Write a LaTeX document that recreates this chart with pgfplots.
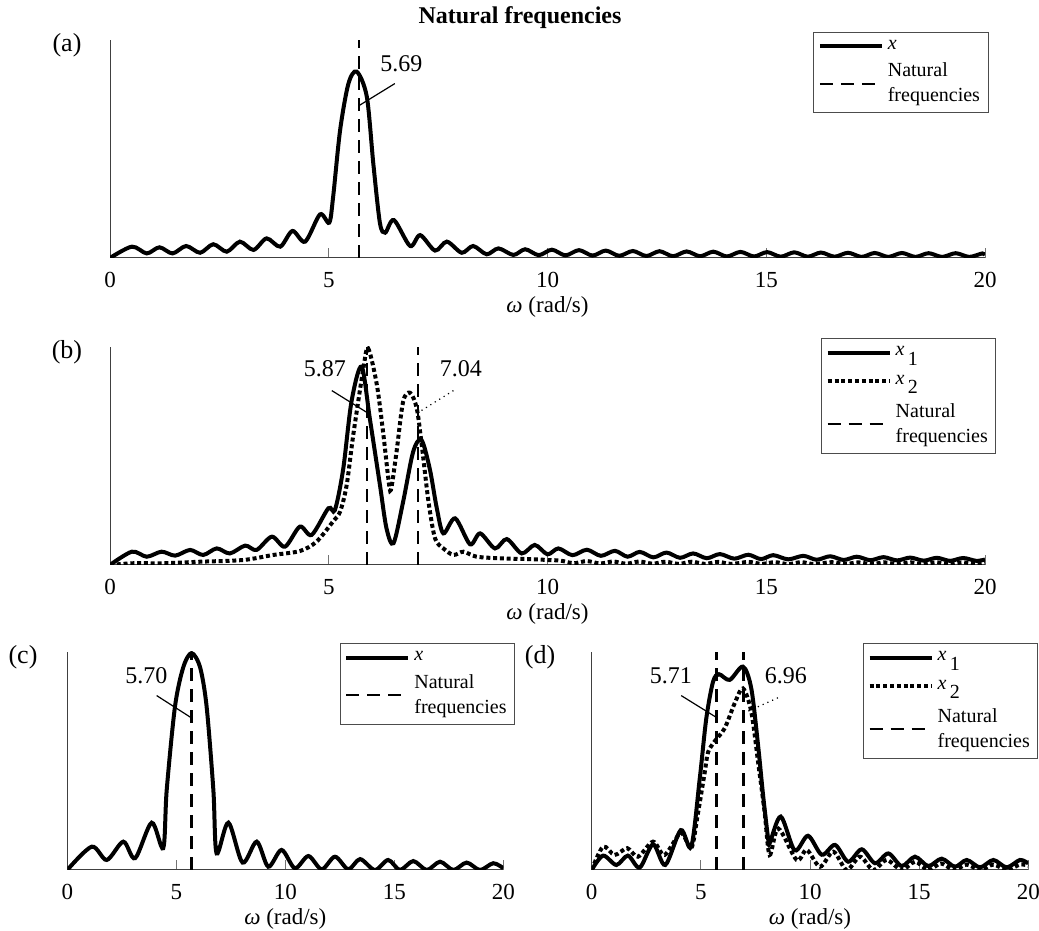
\documentclass[border=0pt]{standalone}
\usepackage{fontspec}
\setmainfont{Liberation Serif}
\usepackage{pgfplots}
\pgfplotsset{compat=1.18}
\newcommand{\sub}[1]{\,\raisebox{-1ex}{#1}}
\pgfplotsset{
  panel/.style={
    scale only axis, xmin=0, xmax=20, ymin=0, ymax=1,
    axis x line=bottom, axis y line=left,
    axis line style={-, black!75, line width=0.5pt},
    xtick={0,5,10,15,20}, ytick=\empty,
    tick align=inside, major tick length=5pt,
    tick style={black!55, line width=0.5pt},
    /pgf/number format/assume math mode=true,
    xticklabel style={font=\fontsize{11.5}{13}\selectfont, anchor=center, yshift=-11pt},
    xlabel={\textit{ω} (rad/s)},
    xlabel style={font=\fontsize{11.5}{13}\selectfont, at={(axis description cs:0.5,0)}, anchor=center, yshift=-24.5pt},
    legend cell align=left,
    legend style={draw=black!70, line width=0.5pt, font=\fontsize{10}{12.5}\selectfont,
      cells={align=left}, inner sep=2pt, row sep=1.2pt, anchor=north east},
    legend image code/.code={\draw[##1] (0pt,0pt) -- (31pt,0pt);},
  },
  curve/.style={black, line width=2pt, smooth},
  dotc/.style={black, line width=2pt, smooth, dash pattern=on 2pt off 1.4pt},
  nat/.style={black, line width=1.2pt, dash pattern=on 6.5pt off 4pt},
}
\begin{document}
\begin{tikzpicture}
\path[use as bounding box] (0pt,0pt) rectangle (519.5pt,465.5pt);
\node[font=\bfseries\fontsize{12}{14}\selectfont] at (260pt,456.5pt) {Natural frequencies};
\node[font=\fontsize{13}{15}\selectfont] at (33.5pt,443pt) {(a)};
\node[font=\fontsize{13}{15}\selectfont] at (33.5pt,289.5pt) {(b)};
\node[font=\fontsize{13}{15}\selectfont] at (11.5pt,137pt) {(c)};
\node[font=\fontsize{13}{15}\selectfont] at (270pt,137pt) {(d)};

% (a)
\begin{axis}[panel, at={(55pt,336.5pt)}, width=437.5pt, height=109pt,
  legend style={at={(1.004,1.038)}}]
\addplot[curve] coordinates {
(0,0) (0.50,0.052) (0.84,0.021) (1.13,0.049) (1.43,0.021) (1.74,0.055) (2.06,0.024)
(2.36,0.063) (2.67,0.029) (2.97,0.075) (3.28,0.037) (3.58,0.090) (3.89,0.052)
(4.17,0.124) (4.46,0.075) (4.80,0.200) (5.01,0.162) (5.10,0.28) (5.26,0.587)
(5.45,0.80) (5.64,0.855) (5.87,0.74) (6.02,0.43) (6.17,0.16) (6.29,0.116)
(6.49,0.174) (6.86,0.055) (7.09,0.105) (7.43,0.034) (7.70,0.075) (8.04,0.024)
(8.30,0.055) (8.61,0.017) (8.88,0.044) (9.22,0.014) (9.49,0.040) (9.80,0.013)
(10.10,0.038) (10.41,0.012) (10.72,0.036) (11.03,0.011) (11.33,0.034) (11.64,0.010)
(11.95,0.032) (12.26,0.009) (12.56,0.031) (12.87,0.008) (13.18,0.030) (13.49,0.008)
(13.79,0.029) (14.10,0.007) (14.41,0.028) (14.72,0.007) (15.02,0.027) (15.33,0.006)
(15.64,0.026) (15.95,0.006) (16.25,0.025) (16.56,0.006) (16.87,0.024) (17.18,0.005)
(17.48,0.023) (17.79,0.005) (18.10,0.023) (18.41,0.005) (18.71,0.022) (19.02,0.005)
(19.33,0.022) (19.64,0.005) (19.94,0.021) (20,0.012)
};
\addlegendentry{\textit{x}}
\addplot[nat] coordinates {(5.69,0) (5.69,1)};
\addlegendentry{Natural\\frequencies}
\draw[black, line width=0.6pt] (axis cs:6.51,0.80) -- (axis cs:5.70,0.70);
\node[font=\fontsize{12}{14}\selectfont] at (axis cs:6.66,0.89) {5.69};
\end{axis}

% (b)
\begin{axis}[panel, at={(55pt,183pt)}, width=437.5pt, height=109pt,
  legend style={at={(1.013,1.04)}, row sep=4pt}]
\addplot[curve] coordinates {
(0,0) (0.50,0.061) (0.84,0.038) (1.18,0.061) (1.49,0.043) (1.83,0.069) (2.13,0.046)
(2.44,0.076) (2.74,0.053) (3.09,0.089) (3.35,0.069) (3.70,0.13) (4.00,0.084)
(4.34,0.176) (4.61,0.138) (4.99,0.26) (5.14,0.252) (5.33,0.44) (5.52,0.75)
(5.75,0.91) (5.94,0.67) (6.17,0.367) (6.32,0.168) (6.48,0.10) (6.70,0.29)
(6.93,0.52) (7.12,0.573) (7.31,0.44) (7.47,0.26) (7.62,0.145) (7.89,0.214)
(8.23,0.095) (8.46,0.145) (8.80,0.076) (9.07,0.119) (9.41,0.053) (9.71,0.092)
(10.0,0.049) (10.25,0.076) (10.57,0.045) (10.9,0.07) (11.22,0.042) (11.54,0.065)
(11.83,0.038) (12.11,0.06) (12.42,0.035) (12.72,0.057) (13.03,0.033) (13.33,0.053)
(13.64,0.031) (13.94,0.05) (14.27,0.029) (14.59,0.047) (14.88,0.027) (15.16,0.045)
(15.5,0.026) (15.85,0.042) (16.15,0.024) (16.46,0.04) (16.77,0.023) (17.07,0.038)
(17.38,0.022) (17.68,0.036) (17.99,0.021) (18.29,0.034) (18.6,0.02) (18.9,0.033)
(19.2,0.019) (19.5,0.032) (19.8,0.019) (20,0.025)
};
\addlegendentry{\textit{x}\sub{1}}
\addplot[dotc] coordinates {
(0,0) (0.53,0.008) (1.2,0.008) (2.06,0.015) (3.05,0.023) (3.73,0.046) (4.34,0.064)
(4.72,0.107) (5.10,0.20) (5.26,0.245) (5.41,0.367) (5.56,0.596) (5.79,0.90)
(5.90,0.994) (6.10,0.826) (6.25,0.596) (6.36,0.40) (6.42,0.344) (6.55,0.52)
(6.70,0.75) (6.86,0.79) (7.01,0.72) (7.12,0.56) (7.28,0.29) (7.43,0.122)
(7.62,0.076) (7.85,0.046) (8.08,0.061) (8.38,0.038) (9.0,0.03) (9.6,0.027)
(10,0.023) (10.3,0.02) (10.6,0.008) (10.9,0.018) (11.2,0.007) (11.5,0.016)
(11.8,0.006) (12.1,0.016) (12.4,0.006) (12.7,0.015) (13.0,0.005) (13.3,0.015)
(13.6,0.005) (13.9,0.014) (14.2,0.005) (14.6,0.014) (14.9,0.005) (15.2,0.013)
(15.5,0.004) (15.8,0.013) (16.1,0.004) (16.5,0.013) (16.8,0.004) (17.1,0.012)
(17.4,0.004) (17.7,0.012) (18.0,0.004) (18.3,0.012) (18.6,0.004) (18.9,0.012)
(19.2,0.004) (19.5,0.012) (19.8,0.004) (20,0.01)
};
\addlegendentry{\textit{x}\sub{2}}
\addplot[nat] coordinates {(5.87,0) (5.87,1)};
\addlegendentry{Natural\\frequencies}
\addplot[nat, forget plot] coordinates {(7.04,0) (7.04,1)};
\draw[black, line width=0.6pt] (axis cs:5.07,0.80) -- (axis cs:5.87,0.70);
\draw[black, line width=0.6pt, dotted] (axis cs:7.85,0.80) -- (axis cs:7.05,0.70);
\node[font=\fontsize{12}{14}\selectfont] at (axis cs:4.91,0.90) {5.87};
\node[font=\fontsize{12}{14}\selectfont] at (axis cs:8.02,0.90) {7.04};
\end{axis}

% (c)
\begin{axis}[panel, at={(33.65pt,30.5pt)}, width=218pt, height=109pt,
  legend style={at={(1.027,1.04)}}]
\addplot[curve] coordinates {
(0,0) (1.12,0.107) (1.81,0.046) (2.57,0.13) (3.11,0.054) (3.87,0.217) (4.40,0.10)
(4.56,0.367) (4.94,0.75) (5.32,0.93) (5.70,0.995) (6.09,0.93) (6.39,0.75)
(6.70,0.367) (6.85,0.076) (7.39,0.217) (8.04,0.034) (8.69,0.13) (9.22,0.015)
(9.83,0.092) (10.44,0.008) (11.06,0.064) (11.67,0.003) (12.28,0.061) (12.89,0.003)
(13.43,0.05) (14.11,0.0) (14.72,0.046) (15.26,0.0) (15.87,0.041) (16.49,0.0)
(17.1,0.038) (17.71,0.0) (18.32,0.034) (18.93,0.0) (19.54,0.031) (20.0,0.008)
};
\addlegendentry{\textit{x}}
\addplot[nat] coordinates {(5.70,0) (5.70,1)};
\addlegendentry{Natural\\frequencies}
\draw[black, line width=0.6pt] (axis cs:4.10,0.80) -- (axis cs:5.66,0.70);
\node[font=\fontsize{12}{14}\selectfont] at (axis cs:3.63,0.89) {5.70};
\end{axis}

% (d)
\begin{axis}[panel, at={(295.85pt,30.5pt)}, width=218.3pt, height=109pt,
  legend style={at={(1.023,1.04)}, row sep=4pt}]
\addplot[curve] coordinates {
(0,0) (0.52,0.066) (1.13,0.023) (1.66,0.066) (2.2,0.011) (2.81,0.118) (3.37,0.023)
(4.08,0.183) (4.56,0.107) (4.95,0.42) (5.25,0.696) (5.56,0.864) (5.83,0.898)
(6.32,0.872) (6.93,0.933) (7.31,0.833) (7.62,0.573) (7.85,0.344) (8.08,0.145)
(8.15,0.122) (8.66,0.245) (9.3,0.09) (9.91,0.157) (10.54,0.07) (11.15,0.115)
(11.75,0.038) (12.37,0.095) (12.98,0.031) (13.59,0.076) (14.2,0.018) (14.81,0.061)
(15.42,0.018) (16.03,0.052) (16.64,0.015) (17.18,0.046) (17.79,0.012) (18.4,0.046)
(19.01,0.012) (19.62,0.046) (20.0,0.03)
};
\addlegendentry{\textit{x}\sub{1}}
\addplot[dotc] coordinates {
(0,0) (0.52,0.107) (1.05,0.069) (1.63,0.10) (2.12,0.061) (2.81,0.13) (3.34,0.069)
(4.08,0.17) (4.56,0.10) (4.85,0.25) (5.18,0.45) (5.33,0.54) (5.63,0.59)
(6.09,0.65) (6.55,0.765) (6.93,0.833) (7.31,0.726) (7.62,0.497) (7.92,0.267)
(8.15,0.069) (8.55,0.19) (9.39,0.046) (9.85,0.092) (10.46,0.015) (11.07,0.084)
(11.68,0.0) (12.29,0.061) (12.9,0.0) (13.51,0.046) (14.2,0.0) (14.81,0.038)
(15.42,0.0) (16.0,0.03) (16.6,0.0) (17.18,0.025) (17.79,0.0) (18.4,0.025)
(19.01,0.0) (19.62,0.025) (20,0.02)
};
\addlegendentry{\textit{x}\sub{2}}
\addplot[nat] coordinates {(5.71,0) (5.71,1)};
\addlegendentry{Natural\\frequencies}
\addplot[nat, forget plot] coordinates {(6.96,0) (6.96,1)};
\draw[black, line width=0.6pt] (axis cs:4.10,0.80) -- (axis cs:5.71,0.70);
\draw[black, line width=0.6pt, dotted] (axis cs:8.53,0.79) -- (axis cs:6.98,0.72);
\node[font=\fontsize{12}{14}\selectfont] at (axis cs:3.63,0.89) {5.71};
\node[font=\fontsize{12}{14}\selectfont] at (axis cs:8.90,0.89) {6.96};
\end{axis}
\end{tikzpicture}
\end{document}
